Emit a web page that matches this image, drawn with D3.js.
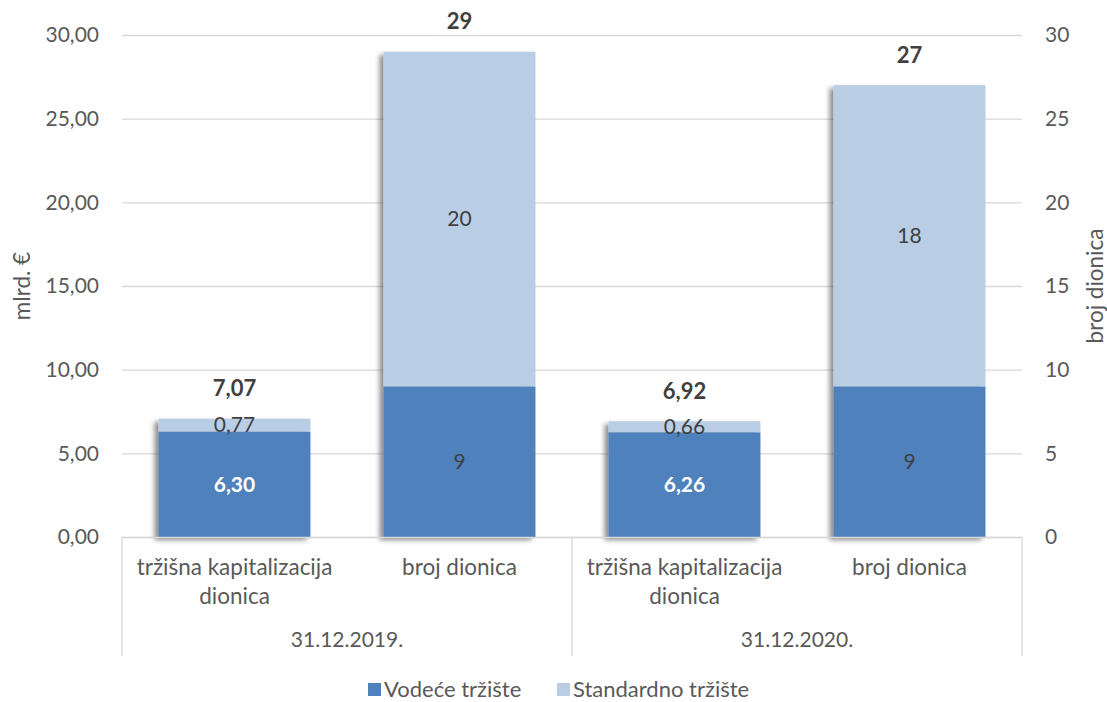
<!DOCTYPE html>
<html>
<head>
<meta charset="utf-8">
<script src="https://cdn.jsdelivr.net/npm/d3@7"></script>
<style>
  body { margin: 0; background: #fff; }
  svg { display: block; font-family: Lato, "Open Sans", sans-serif; }
</style>
</head>
<body>
<svg id="chart" width="1107" height="702"></svg>
<script>
// data
var categories = ["tržišna kapitalizacija dionica", "broj dionica", "tržišna kapitalizacija dionica", "broj dionica"];
var groups = ["31.12.2019.", "31.12.2020."];
var vodece = [6.30, 9, 6.26, 9];
var standardno = [0.77, 20, 0.66, 18];
var axisOf = ["left", "right", "left", "right"];
var seriesNames = ["Vodeće tržište", "Standardno tržište"];
var leftTicks = [0, 5, 10, 15, 20, 25, 30];
var rightTicks = [0, 5, 10, 15, 20, 25, 30];

var dark = "#4f81bd", light = "#b9cde5", grid = "#d9d9d9", txt = "#595959";
var fs = 21, fsText = 22.5;

var svg = d3.select("#chart");
var plotLeft = 122, plotRight = 1022, plotTop = 35, plotBottom = 537;

var x = d3.scaleBand().domain(d3.range(categories.length)).range([plotLeft, plotRight]).padding(0);
var barW = x.bandwidth() * 0.675;
var yL = d3.scaleLinear().domain([0, 30]).range([plotBottom, plotTop]);
var yR = d3.scaleLinear().domain([0, 30]).range([plotBottom, plotTop]);
function yOf(i) { return axisOf[i] === "left" ? yL : yR; }
function fmt(i, v) { return axisOf[i] === "left" ? d3.format(".2f")(v).replace(".", ",") : d3.format("d")(v); }

// shadow
var defs = svg.append("defs");
var f = defs.append("filter").attr("id", "shadow").attr("x", "-20%").attr("y", "-20%").attr("width", "140%").attr("height", "140%");
f.append("feDropShadow").attr("dx", -4).attr("dy", 3).attr("stdDeviation", 2.5)
  .attr("flood-color", "#000").attr("flood-opacity", 0.45);

// gridlines
svg.append("g").selectAll("line").data(leftTicks).join("line")
  .attr("x1", plotLeft).attr("x2", plotRight)
  .attr("y1", function(d) { return yL(d) + 0.5; }).attr("y2", function(d) { return yL(d) + 0.5; })
  .attr("stroke", grid).attr("stroke-width", 1.3);

// left axis labels
svg.append("g").selectAll("text").data(leftTicks).join("text")
  .attr("x", 99).attr("y", function(d) { return yL(d); }).attr("dy", "0.35em")
  .attr("text-anchor", "end").attr("font-size", fs).attr("fill", txt)
  .text(function(d) { return d3.format(".2f")(d).replace(".", ","); });

// right axis labels
svg.append("g").selectAll("text").data(rightTicks).join("text")
  .attr("x", 1045).attr("y", function(d) { return yR(d); }).attr("dy", "0.35em")
  .attr("text-anchor", "start").attr("font-size", fs).attr("fill", txt)
  .text(function(d) { return d; });

// axis titles
svg.append("text").attr("transform", "translate(30," + (plotTop + plotBottom) / 2 + ") rotate(-90)")
  .attr("text-anchor", "middle").attr("font-size", fsText).attr("fill", txt).text("mlrd. €");
svg.append("text").attr("transform", "translate(1103," + (plotTop + plotBottom) / 2 + ") rotate(-90)")
  .attr("text-anchor", "middle").attr("font-size", fsText).attr("fill", txt).text("broj dionica");

// bars
var bars = svg.append("g");
categories.forEach(function(c, i) {
  var y = yOf(i);
  var bx = x(i) + (x.bandwidth() - barW) / 2;
  var g = bars.append("g").attr("filter", "url(#shadow)");
  g.append("rect").attr("x", bx).attr("width", barW)
    .attr("y", y(vodece[i])).attr("height", y(0) - y(vodece[i])).attr("fill", dark);
  g.append("rect").attr("x", bx).attr("width", barW)
    .attr("y", y(vodece[i] + standardno[i])).attr("height", y(vodece[i]) - y(vodece[i] + standardno[i])).attr("fill", light);
});

// labels
var labels = svg.append("g");
categories.forEach(function(c, i) {
  var y = yOf(i), cx = x(i) + x.bandwidth() / 2;
  var lft = axisOf[i] === "left";
  labels.append("text").attr("x", cx).attr("y", (y(0) + y(vodece[i])) / 2).attr("dy", "0.35em")
    .attr("text-anchor", "middle").attr("font-size", fs)
    .attr("font-weight", lft ? "bold" : "normal")
    .attr("fill", lft ? "#fff" : "#404040").text(fmt(i, vodece[i]));
  labels.append("text").attr("x", cx).attr("y", (y(vodece[i]) + y(vodece[i] + standardno[i])) / 2).attr("dy", "0.35em")
    .attr("text-anchor", "middle").attr("font-size", fs).attr("fill", "#404040").text(fmt(i, standardno[i]));
  var total = vodece[i] + standardno[i];
  var ty = y(total) - 30;
  var t = labels.append("text").attr("x", cx).attr("y", ty).attr("dy", "0.35em")
    .attr("text-anchor", "middle").attr("font-size", 22).attr("font-weight", "bold").attr("fill", "#404040")
    .text(fmt(i, total));
  var bb = t.node().getBBox();
  labels.insert("rect", function() { return t.node(); })
    .attr("x", bb.x - 8).attr("y", bb.y).attr("width", bb.width + 16).attr("height", bb.height).attr("fill", "#fff");
});

// category axis
var axis = svg.append("g");
axis.append("line").attr("x1", plotLeft).attr("x2", plotRight).attr("y1", plotBottom + 0.5).attr("y2", plotBottom + 0.5).attr("stroke", grid).attr("stroke-width", 1.3);
[0, 2, 4].forEach(function(k) {
  var xx = k < categories.length ? x(k) : plotRight;
  axis.append("line").attr("x1", xx).attr("x2", xx).attr("y1", plotBottom).attr("y2", 656).attr("stroke", grid).attr("stroke-width", 1.3);
});
categories.forEach(function(c, i) {
  var cx = x(i) + x.bandwidth() / 2;
  var lines = c === "broj dionica" ? [c] : ["tržišna kapitalizacija", "dionica"];
  lines.forEach(function(l, j) {
    axis.append("text").attr("x", cx).attr("y", 567 + j * 29).attr("dy", "0.35em")
      .attr("text-anchor", "middle").attr("font-size", fsText).attr("fill", txt).text(l);
  });
});
groups.forEach(function(gname, k) {
  var cx = (x(k * 2) + x(k * 2 + 1) + x.bandwidth()) / 2;
  axis.append("text").attr("x", cx).attr("y", 640).attr("dy", "0.35em")
    .attr("text-anchor", "middle").attr("font-size", fs).attr("fill", txt).text(gname);
});

// legend
var leg = svg.append("g");
var legX = [368, 557];
seriesNames.forEach(function(n, i) {
  leg.append("rect").attr("x", legX[i]).attr("y", 683).attr("width", 13).attr("height", 13).attr("fill", i === 0 ? dark : light);
  leg.append("text").attr("x", legX[i] + 16).attr("y", 689).attr("dy", "0.35em")
    .attr("font-size", 22).attr("fill", txt).text(n);
});
</script>
</body>
</html>
